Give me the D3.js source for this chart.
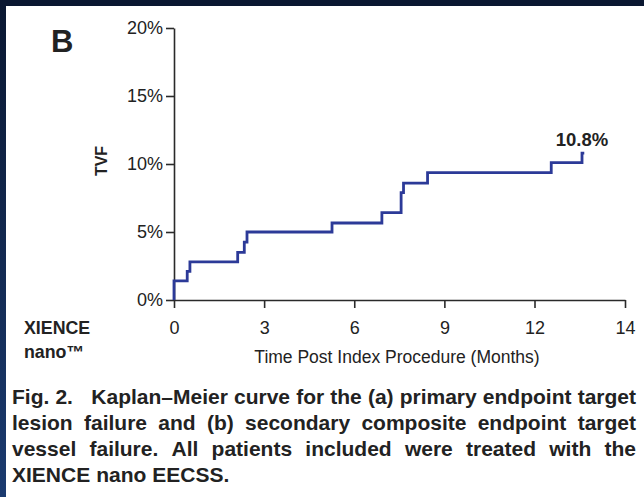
<!DOCTYPE html>
<html>
<head>
<meta charset="utf-8">
<script src="https://cdn.jsdelivr.net/npm/d3@7"></script>
<style>
  html, body { margin: 0; padding: 0; background: #fff; }
  svg { display: block; }
  text { font-family: "Liberation Sans", Arial, Helvetica, sans-serif; fill: #222; }
</style>
</head>
<body>
<svg id="fig" width="644" height="497"></svg>
<script>
// Kaplan–Meier estimate of target vessel failure (TVF, %) over follow-up (months)
const eventMonths = [0, 0.44, 0.53, 2.12, 2.34, 2.43, 5.26, 6.92, 7.56, 7.64, 8.44, 12.37, 13.05];
const tvfPercent  = [1.4, 2.1, 2.8, 3.5, 4.26, 5.0, 5.66, 6.42, 7.9, 8.6, 9.36, 10.1, 10.8];
const followUpEnd = 13.1;

const xTicks = [0, 3, 6, 9, 12, 14];
const yTicks = [0, 5, 10, 15, 20];

const panelLetter = "B";
const yTitle = "TVF";
const xTitle = "Time Post Index Procedure (Months)";
const armLabel = ["XIENCE", "nano\u2122"];
const captionLines = [
  ["Fig.", "2.", "", "", "Kaplan\u2013Meier", "curve", "for", "the", "(a)", "primary", "endpoint", "target"],
  ["lesion", "failure", "and", "(b)", "secondary", "composite", "endpoint", "target"],
  ["vessel", "failure.", "All", "patients", "included", "were", "treated", "with", "the"],
  ["XIENCE", "nano", "EECSS."]
];

const svg = d3.select("#fig");

// page frame: dark band along the top and left edges
const defs = svg.append("defs");
const grad = defs.append("linearGradient").attr("id", "edge").attr("x1", 0).attr("y1", 0).attr("x2", 0).attr("y2", 1);
grad.append("stop").attr("offset", "0%").attr("stop-color", "#0a1731");
grad.append("stop").attr("offset", "100%").attr("stop-color", "#1b3b70");
svg.append("rect").attr("x", 0).attr("y", 0).attr("width", 644).attr("height", 497).attr("fill", "#fff");
svg.append("rect").attr("x", 0).attr("y", 0).attr("width", 644).attr("height", 6).attr("fill", "#0a1731");
svg.append("rect").attr("x", 0).attr("y", 0).attr("width", 6).attr("height", 497).attr("fill", "url(#edge)");

// scales: the last axis interval (12–14) is drawn as wide as the 3-month intervals
const x = d3.scaleLinear().domain([0, 12, 14]).range([174, 534.5, 625]);
const y = d3.scaleLinear().domain([0, 20]).range([300, 28]);

const axisColor = "#2a2a2a";
const tickFont = "18px";

const yAxis = svg.append("g").attr("transform", `translate(${x(0)},0)`)
  .call(d3.axisLeft(y).tickValues(yTicks).tickFormat(d => d + "%").tickSize(8).tickPadding(3).tickSizeOuter(0));
const xAxis = svg.append("g").attr("transform", `translate(0,${y(0)})`)
  .call(d3.axisBottom(x).tickValues(xTicks).tickFormat(d => d).tickSize(8).tickPadding(13).tickSizeOuter(0));

[xAxis, yAxis].forEach(g => {
  g.select(".domain").attr("stroke", axisColor).attr("stroke-width", 1.6);
  g.selectAll(".tick line").attr("stroke", axisColor).attr("stroke-width", 1.6);
  g.selectAll(".tick text").attr("fill", "#2a2a2a").style("font-size", tickFont)
    .style("font-family", '"Liberation Sans", Arial, sans-serif');
});

// step curve: flat until each event time, then a vertical jump
const pts = [{t: 0, v: 0}];
eventMonths.forEach((t, i) => pts.push({t, v: tvfPercent[i]}));
pts.push({t: followUpEnd, v: tvfPercent[tvfPercent.length - 1]});
const line = d3.line().x(d => x(d.t)).y(d => y(d.v)).curve(d3.curveStepAfter);
svg.append("path").datum(pts).attr("d", line)
  .attr("fill", "none").attr("stroke", "#2c3a98").attr("stroke-width", 2.8)
  .attr("stroke-linejoin", "miter").attr("stroke-linecap", "butt");

// final estimate label
const lastV = tvfPercent[tvfPercent.length - 1];
svg.append("text").attr("x", x(eventMonths[eventMonths.length - 1])).attr("y", 146)
  .attr("text-anchor", "middle").style("font-size", "18.5px").style("font-weight", "bold")
  .text(lastV.toFixed(1) + "%");

// panel letter, axis titles, arm label
svg.append("text").attr("x", 51).attr("y", 52).style("font-size", "31px").style("font-weight", "bold").text(panelLetter);
svg.append("text").attr("transform", `translate(107,161) rotate(-90)`).attr("text-anchor", "middle")
  .style("font-size", "16px").style("font-weight", "bold").text(yTitle);
svg.append("text").attr("x", 397).attr("y", 363).attr("text-anchor", "middle").style("font-size", "17.5px").text(xTitle);
svg.append("text").attr("x", 24).attr("y", 334).style("font-size", "17.8px").style("font-weight", "bold").text(armLabel[0]);
svg.append("text").attr("x", 24).attr("y", 358).style("font-size", "17.8px").style("font-weight", "bold").text(armLabel[1]);

// justified figure caption
const capLeft = 12, capRight = 636, capTop = 404, capStep = 26;
captionLines.forEach((words, li) => {
  const yy = capTop + li * capStep;
  const g = svg.append("g");
  const nodes = words.filter(w => w !== "").map(w => g.append("text").attr("y", yy)
    .style("font-size", "21px").style("font-weight", "bold").text(w));
  const widths = nodes.map(n => n.node().getComputedTextLength());
  // gap weights: each empty entry widens the following gap
  const weights = [];
  let pending = 0;
  words.forEach((w, i) => { if (i === 0) return; if (w === "") { pending += 1; } else { weights.push(1 + pending); pending = 0; } });
  const last = li === captionLines.length - 1;
  const total = d3.sum(widths);
  const unit = last ? 6 : Math.max(3, (capRight - capLeft - total) / d3.sum(weights));
  let cx = capLeft;
  nodes.forEach((n, i) => { n.attr("x", cx); cx += widths[i] + (i < weights.length ? weights[i] * unit : 0); });
});
</script>
</body>
</html>
